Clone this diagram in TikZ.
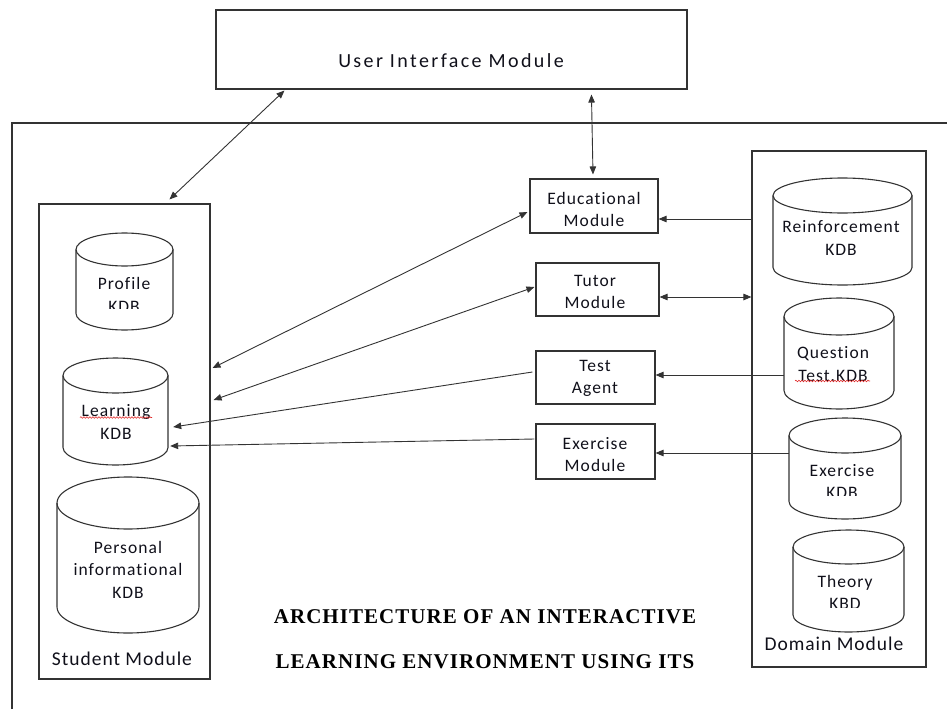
\documentclass[tikz,border=0pt]{standalone}
\usepackage{fontspec}
\setmainfont{Carlito}
\newfontfamily\uifont[LetterSpace=12,Ligatures=NoCommon]{Carlito}
\newfontfamily\boxfont[LetterSpace=6,Ligatures=NoCommon]{Carlito}
\newfontfamily\groupfont[LetterSpace=5,Ligatures=NoCommon]{Carlito}
\newfontfamily\headfont[LetterSpace=5]{Liberation Serif}
\usetikzlibrary{arrows.meta,decorations.pathmorphing}

\definecolor{linec}{gray}{0.2}
\definecolor{inkc}{HTML}{10101A}
\definecolor{squigc}{HTML}{E02828}

\tikzset{
  frame/.style={draw=linec, line width=1.1pt},
  box/.style={frame, rectangle, inner sep=0pt},
  kdb/.style={rectangle, draw=none, inner sep=0pt},
  boxtext/.style={inner sep=0pt, align=center, text=inkc,
    font=\boxfont\fontsize{17.5}{22.5}\selectfont},
  grouptext/.style={inner sep=0pt, text=inkc,
    font=\groupfont\fontsize{19.5}{22}\selectfont},
  uitext/.style={inner sep=0pt, text=inkc,
    font=\uifont\fontsize{20}{22}\selectfont},
  headtext/.style={inner sep=0pt, text=black,
    font=\headfont\bfseries\fontsize{21}{22}\selectfont},
  tip/.tip={Triangle[length=8pt,width=6.5pt]},
  arr/.style={draw=linec, line width=0.9pt, -tip},
  biarr/.style={draw=linec, line width=0.9pt, tip-tip},
  spell/.style={draw=squigc, line width=0.6pt,
    decorate, decoration={snake, segment length=3pt, amplitude=0.8pt}}
}

% database cylinder: name, left, right, top, bottom, half-height of the lid
\newcommand\kdbcyl[6]{%
  \draw[frame] (#2,#4+#6) -- (#2,#5-#6)
    arc[start angle=180,end angle=0,x radius={(#3-#2)/2},y radius=#6]
    -- (#3,#4+#6)
    arc[start angle=0,end angle=-180,x radius={(#3-#2)/2},y radius=#6] -- cycle;
  \draw[frame] (#2,#4+#6)
    arc[start angle=180,end angle=0,x radius={(#3-#2)/2},y radius=#6];
  \node[kdb, minimum width={(#3-#2)*1pt}, minimum height={(#5-#4)*1pt}]
    (#1) at ({(#2+#3)/2},{(#4+#5)/2}) {};
}

\begin{document}
\begin{tikzpicture}[x=1pt,y=-1pt]
\useasboundingbox (0,0) rectangle (947,709);

% system frame (runs off the page to the right and below)
\draw[frame] (12,709) -- (12,123) -- (947,123);

% user interface
\node[box, minimum width=471pt, minimum height=79pt] (ui) at (451.5,49.5) {};
\node[uitext] (ui-t) at (451,61) {User Interface Module};

% student side
\node[box, minimum width=171pt, minimum height=475pt] (stud) at (124.5,441.5) {};
\node[grouptext] (stud-t) at (122,659) {Student Module};

\kdbcyl{profile}{76}{173}{233}{330}{16.5}
\begin{scope}
  \clip (76,240) rectangle (173,308);
  \node[boxtext] (profile-t) at (124,295) {Profile\\KDB};
\end{scope}

\kdbcyl{learn}{63}{168}{358}{465}{17.5}
\node[boxtext] (learn-t) at (116,422) {Learning\\KDB};
\draw[spell] (80,417.5) -- (152,417.5);

\kdbcyl{personal}{57}{199}{477}{633}{26}
\node[boxtext] (personal-t) at (128,569.5) {Personal\\informational\\KDB};

% middle modules
\node[box, minimum width=128pt, minimum height=54pt] (edu) at (594,206) {};
\node[boxtext] (edu-t) at (594,209.5) {Educational\\Module};

\node[box, minimum width=123pt, minimum height=53pt] (tutor) at (597.5,289.5) {};
\node[boxtext] (tutor-t) at (595,292) {Tutor\\Module};

\node[box, minimum width=119pt, minimum height=53pt] (test) at (595.5,377.5) {};
\begin{scope}
  \clip (537,352) rectangle (654,397);
  \node[boxtext] (test-t) at (595,378.5) {Test\\Agent};
\end{scope}

\node[box, minimum width=119pt, minimum height=55pt] (exmod) at (595.5,451.5) {};
\node[boxtext] (exmod-t) at (595,454.5) {Exercise\\Module};

% domain side
\node[box, minimum width=174pt, minimum height=516pt] (dom) at (839,409) {};
\node[grouptext] (dom-t) at (834,644) {Domain Module};

\kdbcyl{reinf}{773}{912}{178}{285}{17.5}
\node[boxtext] (reinf-t) at (841,238) {Reinforcement\\KDB};

\kdbcyl{quest}{784}{894}{298}{409}{18.5}
\node[boxtext] (quest-t) at (833,364) {Question\\Test.KDB};
\draw[spell] (795,381) -- (870,381);

\kdbcyl{exkdb}{789}{901}{418}{519}{17.5}
\begin{scope}
  \clip (789,440) rectangle (901,495);
  \node[boxtext] (exkdb-t) at (842,481.5) {Exercise\\KDB};
\end{scope}

\kdbcyl{theory}{793}{904}{530}{632}{17}
\begin{scope}
  \clip (793,550) rectangle (904,607);
  \node[boxtext] (theory-t) at (845,592.5) {Theory\\KBD};
\end{scope}

% title
\node[headtext] (title1) at (485,617) {ARCHITECTURE OF AN INTERACTIVE};
\node[headtext] (title2) at (485,662) {LEARNING ENVIRONMENT USING ITS};

% connectors
\draw[biarr] ([xshift=69pt,yshift=-1pt]ui.south west) -- ([xshift=131pt,yshift=4pt]stud.north west);
\draw[biarr] ([xshift=376pt,yshift=-5pt]ui.south west) -- ([xshift=-1pt,yshift=4pt]edu.north);

\draw[biarr] ([xshift=-2pt,yshift=-6pt]edu.west) -- ([xshift=2pt,yshift=73.5pt]stud.east);
\draw[biarr] ([xshift=-1pt,yshift=2.5pt]tutor.west) -- ([xshift=3pt,yshift=41.5pt]stud.east);
\draw[arr] ([xshift=-3pt,yshift=5.5pt]test.west) -- ([xshift=5pt,yshift=-15.5pt]learn.east);
\draw[arr] ([xshift=-1pt,yshift=12.5pt]exmod.west) -- ([xshift=2pt,yshift=-34.5pt]learn.east);

\draw[arr] ([yshift=190pt]dom.west) -- ([yshift=-13pt]edu.east);
\draw[biarr] ([yshift=-7.5pt]tutor.east) -- ([yshift=112pt]dom.west);
\draw[arr] ([yshift=-21.5pt]quest.west) -- ([yshift=2.5pt]test.east);
\draw[arr] ([yshift=15.5pt]exkdb.west) -- ([yshift=-1.5pt]exmod.east);
\end{tikzpicture}
\end{document}
